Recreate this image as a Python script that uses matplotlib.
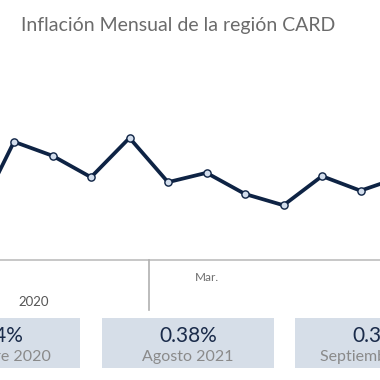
import matplotlib
matplotlib.use("Agg")
import matplotlib.pyplot as plt
from matplotlib.patches import Rectangle

# Datos (inflación mensual, %)
meses = ["Ago 2020", "Sep 2020", "Oct 2020", "Nov 2020", "Dic 2020", "Ene 2021",
         "Feb 2021", "Mar 2021", "Abr 2021", "May 2021", "Jun 2021", "Jul 2021"]
inflacion = [0.147, 0.430, 0.379, 0.301, 0.444, 0.283, 0.317, 0.240, 0.199, 0.305, 0.252, 0.300]
etiquetas_mes = ["", "", "", "", "", "", "Mar.", "", "", "", "", ""]

tarjetas_valor = ["0.44%", "0.38%", "0.36%"]
tarjetas_mes = ["Diciembre 2020", "Agosto 2021", "Septiembre 2021"]

plt.rcParams["font.family"] = ["Lato", "DejaVu Sans"]

W, H = 380, 380
fig = plt.figure(figsize=(W / 100, H / 100), dpi=100)
fig.patch.set_facecolor("white")

# ejes del gráfico: índice i en píxel -24.5 + 38.5*i
x0, paso = -24.5, 38.5
ax = fig.add_axes([0, 1 - 260 / H, 1, 210 / H])
ax.set_xlim((0 - x0) / paso, (W - x0) / paso)
ax.set_ylim(0, 0.7636)
ax.axis("off")

xs = list(range(len(meses)))
ax.plot(xs, inflacion, color="#0e2344", linewidth=2.7, marker="o", markersize=5.2,
        markerfacecolor="#d3deed", markeredgecolor="#0e2344", markeredgewidth=1.0,
        clip_on=False, zorder=3)

# eje horizontal y separador de año
fig.add_artist(plt.Line2D([0, 1], [1 - 260 / H] * 2, color="#bdbdbd", linewidth=1.2))
sep = (4.5 - (0 - x0) / paso) / ((W - x0) / paso - (0 - x0) / paso)
fig.add_artist(plt.Line2D([sep, sep], [1 - 260 / H, 1 - 310 / H], color="#b0b0b0", linewidth=1.2))

for i, lab in enumerate(etiquetas_mes):
    if lab:
        ax.text(i, -0.065, lab, ha="center", va="center", fontsize=8.5, color="#6e6e6e",
                clip_on=False)
fig.text(33.5 / W, 1 - 302 / H, "2020", ha="center", va="center", fontsize=9.5, color="#555555")

fig.text(178 / W, 1 - 26 / H, "Inflación Mensual de la región CARD", ha="center",
         va="center", fontsize=14, color="#6b6b6b")

# tarjetas inferiores
centros = [-6, 188, 381]
for c, val, mes in zip(centros, tarjetas_valor, tarjetas_mes):
    fig.add_artist(Rectangle(((c - 86) / W, 1 - 368 / H), 172 / W, 50 / H,
                             transform=fig.transFigure, facecolor="#d6dee8",
                             edgecolor="none"))
    fig.text(c / W, 1 - 336 / H, val, ha="center", va="center", fontsize=15,
             color="#1a2b4a")
    fig.text(c / W, 1 - 357 / H, mes, ha="center", va="center", fontsize=11.5,
             color="#8a8a8a")

fig.savefig("out.png", dpi=100)
